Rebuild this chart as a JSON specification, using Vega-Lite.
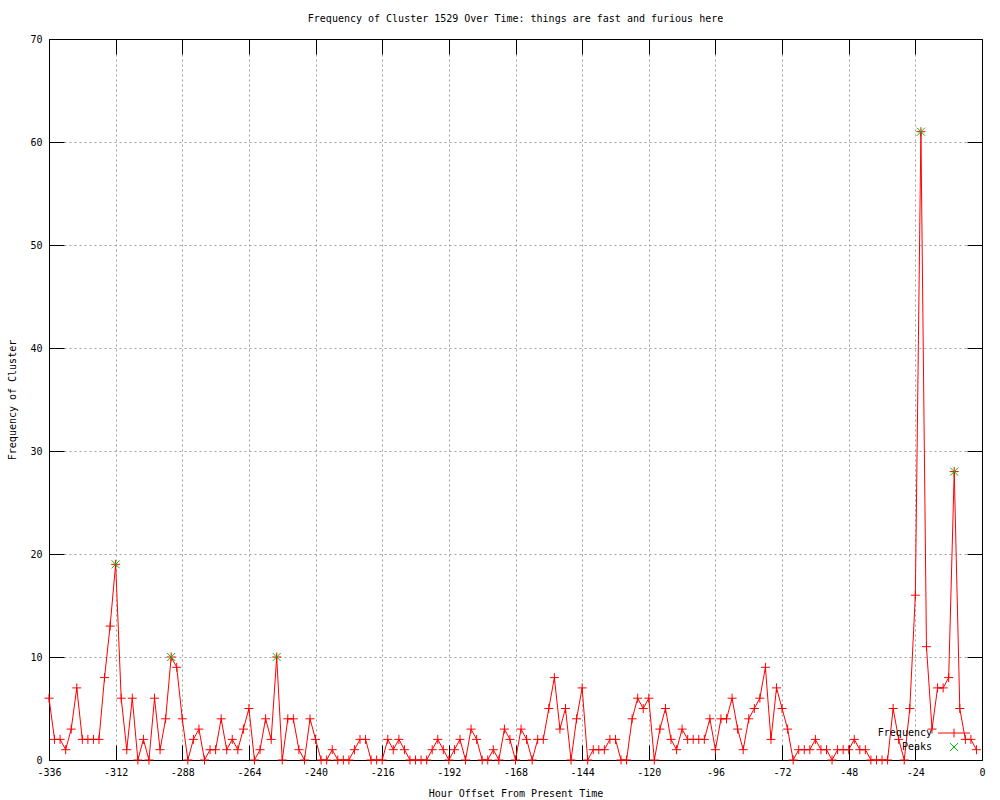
{
  "$schema": "https://vega.github.io/schema/vega-lite/v6.json",
  "width": 933,
  "height": 721,
  "autosize": {"type": "none"},
  "padding": {"left": 49, "top": 39, "right": 18, "bottom": 40},
  "background": "white",
  "title": {"text": "Frequency of Cluster 1529 Over Time: things are fast and furious here", "font": "DejaVu Sans Mono", "fontSize": 10, "fontWeight": "normal", "color": "black", "anchor": "middle", "offset": 10},
  "config": {
    "view": {"stroke": null},
    "font": "DejaVu Sans Mono",
    "axis": {
      "labelFont": "DejaVu Sans Mono", "labelFontSize": 10, "labelColor": "black",
      "titleFont": "DejaVu Sans Mono", "titleFontSize": 10, "titleFontWeight": "normal", "titleColor": "black",
      "domainColor": "black", "domainWidth": 1, "tickColor": "black", "tickWidth": 1, "tickSize": -15,
      "gridColor": "#a0a0a0", "gridDash": [2, 3], "gridWidth": 1
    },
    "legend": {"labelFont": "DejaVu Sans Mono", "labelFontSize": 10, "labelColor": "black"}
  },
  "datasets": {
    "freq": [
      {"h":-336,"c":6},{"h":-334,"c":2},{"h":-332,"c":2},{"h":-330,"c":1},{"h":-328,"c":3},{"h":-326,"c":7},{"h":-324,"c":2},{"h":-322,"c":2},{"h":-320,"c":2},{"h":-318,"c":2},{"h":-316,"c":8},{"h":-314,"c":13},{"h":-312,"c":19},
      {"h":-310,"c":6},{"h":-308,"c":1},{"h":-306,"c":6},{"h":-304,"c":0},{"h":-302,"c":2},{"h":-300,"c":0},{"h":-298,"c":6},{"h":-296,"c":1},{"h":-294,"c":4},{"h":-292,"c":10},{"h":-290,"c":9},
      {"h":-288,"c":4},{"h":-286,"c":0},{"h":-284,"c":2},{"h":-282,"c":3},{"h":-280,"c":0},{"h":-278,"c":1},{"h":-276,"c":1},{"h":-274,"c":4},{"h":-272,"c":1},{"h":-270,"c":2},{"h":-268,"c":1},{"h":-266,"c":3},{"h":-264,"c":5},{"h":-262,"c":0},{"h":-260,"c":1},{"h":-258,"c":4},{"h":-256,"c":2},{"h":-254,"c":10},{"h":-252,"c":0},{"h":-250,"c":4},{"h":-248,"c":4},{"h":-246,"c":1},{"h":-244,"c":0},{"h":-242,"c":4},
      {"h":-240,"c":2},{"h":-238,"c":0},{"h":-236,"c":0},{"h":-234,"c":1},{"h":-232,"c":0},{"h":-230,"c":0},{"h":-228,"c":0},{"h":-226,"c":1},{"h":-224,"c":2},{"h":-222,"c":2},{"h":-220,"c":0},{"h":-218,"c":0},{"h":-216,"c":0},{"h":-214,"c":2},{"h":-212,"c":1},{"h":-210,"c":2},{"h":-208,"c":1},{"h":-206,"c":0},{"h":-204,"c":0},{"h":-202,"c":0},{"h":-200,"c":0},{"h":-198,"c":1},{"h":-196,"c":2},{"h":-194,"c":1},
      {"h":-192,"c":0},{"h":-190,"c":1},{"h":-188,"c":2},{"h":-186,"c":0},{"h":-184,"c":3},{"h":-182,"c":2},{"h":-180,"c":0},{"h":-178,"c":0},{"h":-176,"c":1},{"h":-174,"c":0},{"h":-172,"c":3},{"h":-170,"c":2},{"h":-168,"c":0},{"h":-166,"c":3},{"h":-164,"c":2},{"h":-162,"c":0},{"h":-160,"c":2},{"h":-158,"c":2},{"h":-156,"c":5},{"h":-154,"c":8},{"h":-152,"c":3},{"h":-150,"c":5},{"h":-148,"c":0},{"h":-146,"c":4},
      {"h":-144,"c":7},{"h":-142,"c":0},{"h":-140,"c":1},{"h":-138,"c":1},{"h":-136,"c":1},{"h":-134,"c":2},{"h":-132,"c":2},{"h":-130,"c":0},{"h":-128,"c":0},{"h":-126,"c":4},{"h":-124,"c":6},{"h":-122,"c":5},{"h":-120,"c":6},{"h":-118,"c":0},{"h":-116,"c":3},{"h":-114,"c":5},{"h":-112,"c":2},{"h":-110,"c":1},{"h":-108,"c":3},{"h":-106,"c":2},{"h":-104,"c":2},{"h":-102,"c":2},{"h":-100,"c":2},{"h":-98,"c":4},
      {"h":-96,"c":1},{"h":-94,"c":4},{"h":-92,"c":4},{"h":-90,"c":6},{"h":-88,"c":3},{"h":-86,"c":1},{"h":-84,"c":4},{"h":-82,"c":5},{"h":-80,"c":6},{"h":-78,"c":9},{"h":-76,"c":2},{"h":-74,"c":7},{"h":-72,"c":5},{"h":-70,"c":3},{"h":-68,"c":0},{"h":-66,"c":1},{"h":-64,"c":1},{"h":-62,"c":1},{"h":-60,"c":2},{"h":-58,"c":1},{"h":-56,"c":1},{"h":-54,"c":0},{"h":-52,"c":1},{"h":-50,"c":1},
      {"h":-48,"c":1},{"h":-46,"c":2},{"h":-44,"c":1},{"h":-42,"c":1},{"h":-40,"c":0},{"h":-38,"c":0},{"h":-36,"c":0},{"h":-34,"c":0},{"h":-32,"c":5},{"h":-30,"c":2},{"h":-28,"c":0},{"h":-26,"c":5},{"h":-24,"c":16},{"h":-22,"c":61},{"h":-20,"c":11},{"h":-18,"c":3},{"h":-16,"c":7},{"h":-14,"c":7},{"h":-12,"c":8},{"h":-10,"c":28},{"h":-8,"c":5},{"h":-6,"c":2},{"h":-4,"c":2},{"h":-2,"c":1}
    ],
    "peaks": [
      {"h":-312,"c":19,"series":"Peaks"},{"h":-292,"c":10,"series":"Peaks"},{"h":-254,"c":10,"series":"Peaks"},{"h":-22,"c":61,"series":"Peaks"},{"h":-10,"c":28,"series":"Peaks"}
    ]
  },
  "resolve": {"axis": {"x": "independent", "y": "independent"}},
  "layer": [
    {
      "data": {"name": "freq"},
      "mark": {"type": "line", "color": "#ff0000", "strokeWidth": 1, "clip": false},
      "encoding": {
        "x": {"field": "h", "type": "quantitative", "scale": {"domain": [-336, 0], "nice": false, "zero": false},
          "axis": {"orient": "bottom", "values": [-336,-312,-288,-264,-240,-216,-192,-168,-144,-120,-96,-72,-48,-24,0], "labelExpr": "'' + datum.value", "title": "Hour Offset From Present Time", "grid": true, "labelPadding": 22, "titlePadding": 11, "labelFlush": false, "labelOverlap": false}},
        "y": {"field": "c", "type": "quantitative", "scale": {"domain": [0, 70], "nice": false, "zero": true},
          "axis": {"orient": "left", "values": [0,10,20,30,40,50,60,70], "title": "Frequency of Cluster", "grid": true, "labelPadding": 22, "titlePadding": 12, "labelFlush": false, "labelOverlap": false}}
      }
    },
    {
      "data": {"name": "freq"},
      "mark": {"type": "point", "shape": "M-1,0L1,0M0,-1L0,1", "size": 81, "filled": false, "color": "#ff0000", "strokeWidth": 1, "opacity": 1, "clip": false},
      "encoding": {
        "x": {"field": "h", "type": "quantitative", "axis": {"orient": "top", "values": [-336,-312,-288,-264,-240,-216,-192,-168,-144,-120,-96,-72,-48,-24,0], "labels": false, "title": null, "grid": false, "zindex": 1}},
        "y": {"field": "c", "type": "quantitative", "axis": {"orient": "right", "values": [0,10,20,30,40,50,60,70], "labels": false, "title": null, "grid": false, "zindex": 1}}
      }
    },
    {
      "data": {"name": "peaks"},
      "mark": {"type": "point", "size": 64, "filled": false, "strokeWidth": 1, "opacity": 1, "clip": false},
      "encoding": {
        "x": {"field": "h", "type": "quantitative", "axis": null},
        "y": {"field": "c", "type": "quantitative", "axis": null},
        "color": {"field": "series", "type": "nominal", "scale": {"domain": ["Frequency", "Peaks"], "range": ["#ff0000", "#00c000"]},
          "legend": {"title": null, "orient": "none", "legendX": 900, "legendY": 689, "symbolSize": 64, "symbolStrokeWidth": 1, "symbolFillColor": "transparent", "labelAlign": "right", "labelOffset": -27, "rowPadding": 1, "padding": 0}},
        "shape": {"field": "series", "type": "nominal", "scale": {"domain": ["Frequency", "Peaks"], "range": ["M-4,0L4,0M0,-1.1L0,1.1", "M-1,-1L1,1M-1,1L1,-1"]},
          "legend": {"title": null, "orient": "none", "legendX": 900, "legendY": 689, "symbolSize": 64, "symbolStrokeWidth": 1, "symbolFillColor": "transparent", "labelAlign": "right", "labelOffset": -27, "rowPadding": 1, "padding": 0}}
      }
    }
  ]
}
